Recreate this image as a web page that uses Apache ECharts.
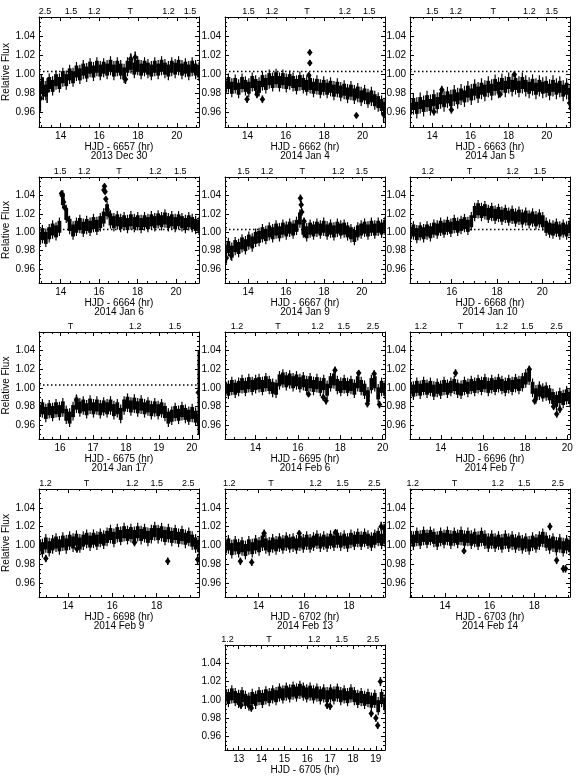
<!DOCTYPE html>
<html>
<head>
<meta charset="utf-8">
<script src="https://cdn.jsdelivr.net/npm/echarts@6/dist/echarts.min.js"></script>
<style>
  html, body { margin: 0; padding: 0; background: #fff; }
  #main { width: 576px; height: 776px; }
</style>
</head>
<body>
<div id="main"></div>
<script>
var fluxDec30 = [0.978,0.987,0.983,0.991,0.988,0.994,0.991,0.997,0.994,1.000,0.997,1.003,1.000,1.005,1.002,1.007,1.003,1.008,1.004,1.007,1.005,1.009,1.004,1.008,1.005,1.001,1.008,1.011,1.006,1.009,1.005,1.008,1.006,1.004,1.008,1.005,1.009,1.006,1.004,1.008,1.006,1.009,1.005,1.007,1.004,1.008,1.005,1.003];
var fluxJan04 = [0.987,0.991,0.986,0.990,0.985,0.991,0.988,0.986,0.992,0.989,0.987,0.993,0.990,0.995,0.992,0.996,0.992,0.995,0.991,0.994,0.992,0.989,0.993,0.990,0.988,0.990,0.986,0.989,0.985,0.988,0.985,0.987,0.983,0.986,0.982,0.984,0.980,0.983,0.979,0.981,0.977,0.979,0.975,0.977,0.973,0.971,0.968,0.965];
var fluxJan05 = [0.964,0.969,0.965,0.970,0.967,0.972,0.968,0.973,0.970,0.975,0.972,0.976,0.973,0.978,0.975,0.979,0.977,0.982,0.979,0.984,0.981,0.985,0.983,0.987,0.984,0.989,0.986,0.990,0.987,0.991,0.988,0.990,0.987,0.991,0.988,0.986,0.989,0.985,0.988,0.986,0.987,0.984,0.988,0.985,0.987,0.983,0.985,0.979];
var fluxJan06 = [0.993,0.998,0.994,0.999,1.003,1.001,1.006,1.036,1.020,1.008,1.002,1.006,1.009,1.005,1.008,1.006,1.010,1.007,1.011,1.016,1.024,1.014,1.011,1.013,1.010,1.012,1.009,1.013,1.010,1.012,1.009,1.012,1.010,1.013,1.011,1.014,1.012,1.015,1.011,1.013,1.010,1.013,1.011,1.009,1.012,1.010,1.008,1.007];
var fluxJan09 = [0.980,0.984,0.979,0.985,0.983,0.988,0.986,0.991,0.989,0.994,0.995,0.999,0.997,1.001,0.999,1.003,1.000,1.004,1.002,1.005,1.003,1.007,1.015,1.004,1.000,1.004,1.002,1.005,1.003,1.006,1.002,1.004,1.001,1.005,1.003,1.004,1.001,0.999,0.996,1.001,1.003,1.005,1.002,1.006,1.003,1.006,1.004,1.007];
var fluxJan10 = [0.999,1.002,0.998,1.001,0.999,1.002,1.000,1.004,1.003,1.006,1.004,1.007,1.005,1.009,1.006,1.008,1.010,1.007,1.012,1.022,1.025,1.022,1.024,1.020,1.022,1.019,1.021,1.018,1.020,1.017,1.019,1.016,1.018,1.015,1.017,1.014,1.016,1.013,1.015,1.012,1.006,1.004,1.003,1.005,1.002,1.004,1.002,1.006];
var fluxJan17 = [0.975,0.978,0.973,0.977,0.974,0.978,0.975,0.979,0.971,0.968,0.975,0.983,0.979,0.981,0.977,0.982,0.978,0.981,0.977,0.980,0.978,0.981,0.976,0.978,0.972,0.981,0.984,0.980,0.983,0.979,0.982,0.978,0.980,0.976,0.979,0.976,0.978,0.974,0.968,0.970,0.974,0.971,0.975,0.972,0.970,0.973,0.969,0.966];
var fluxFeb06 = [1.000,0.998,1.002,0.999,1.001,1.004,1.001,1.005,1.002,1.004,1.005,1.002,1.006,1.003,1.000,0.999,1.008,1.010,1.007,1.009,1.006,1.008,1.005,1.007,1.003,1.006,1.002,1.005,1.001,1.004,0.998,1.006,1.009,1.003,1.001,1.004,1.001,1.003,0.999,1.006,1.002,0.998,0.991,1.004,1.006,0.994,1.001,0.998];
var fluxFeb07 = [1.000,0.997,1.001,0.998,1.002,0.999,1.001,0.997,1.000,0.998,1.002,0.999,1.001,1.003,0.999,0.998,1.002,1.000,1.003,1.001,1.004,1.002,1.005,1.001,1.004,1.002,1.005,1.003,1.001,1.004,1.002,1.005,1.003,1.006,1.010,1.013,1.000,0.993,0.997,0.995,0.996,0.993,0.989,0.986,0.990,0.988,0.992,0.989];
var fluxFeb09 = [1.000,0.997,1.002,0.998,1.001,1.003,1.000,1.004,1.001,1.005,1.003,1.006,1.002,1.005,1.007,1.004,1.007,1.005,1.008,1.006,1.009,1.012,1.008,1.013,1.010,1.014,1.011,1.013,1.010,1.014,1.011,1.013,1.009,1.012,1.015,1.012,1.014,1.010,1.013,1.009,1.012,1.008,1.011,1.007,1.009,1.005,1.002,0.999];
var fluxFeb13 = [0.998,1.001,0.996,1.000,0.997,0.999,0.995,1.000,0.997,1.001,0.999,1.004,1.001,0.999,1.002,1.000,1.003,1.001,1.004,1.002,1.003,1.001,1.004,1.002,1.005,1.002,1.004,1.006,1.003,1.005,1.003,1.006,1.004,1.007,1.004,1.006,1.003,1.007,1.005,1.008,1.005,1.008,1.006,1.004,1.007,1.009,1.006,1.008];
var fluxFeb14 = [1.008,1.005,1.009,1.006,1.010,1.007,1.010,1.008,1.005,1.009,1.007,1.010,1.006,1.009,1.007,1.010,1.006,1.009,1.006,1.008,1.005,1.009,1.006,1.003,1.006,1.003,1.005,1.002,1.006,1.003,1.005,1.002,1.004,1.001,1.003,1.000,1.004,1.002,1.005,1.008,1.004,1.001,1.003,0.999,1.002,0.998,1.001,0.999];
var fluxFeb15 = [1.005,1.002,1.006,1.003,1.001,1.004,1.000,0.998,1.002,1.000,1.004,1.001,1.005,1.003,1.006,1.004,1.008,1.006,1.009,1.007,1.010,1.008,1.011,1.009,1.007,1.009,1.006,1.008,1.005,1.007,1.004,1.007,1.005,1.008,1.004,1.006,1.003,1.007,1.004,1.001,1.003,1.000,1.002,0.998,1.001,0.993,1.002,0.996];

// isolated points and flares: [hour, flux, error]
var extraDec30 = [[12.95,0.975,0.014],[13.1,0.985,0.012],[13.3,0.983,0.013],[13.0,0.990,0.010],[17.35,0.995,0.005],[17.62,1.016,0.006],[17.85,1.018,0.006]];
var extraJan04 = [[13.98,0.974,0.004],[14.5,0.979,0.004],[14.78,0.974,0.004],[17.25,1.023,0.003],[17.25,1.012,0.003],[17.2,0.999,0.003],[19.68,0.957,0.003],[21.1,0.958,0.008]];
var extraJan05 = [[14.08,0.961,0.004],[14.5,0.984,0.004],[15.0,0.963,0.004],[17.55,0.979,0.003],[18.3,1.000,0.003],[21.2,0.970,0.007]];
var extraJan06 = [[14.04,1.042,0.003],[14.08,1.040,0.003],[14.15,1.033,0.003],[14.2,1.027,0.003],[14.35,1.015,0.003],[16.25,1.046,0.003],[16.28,1.050,0.003],[16.31,1.044,0.003],[16.35,1.036,0.003],[16.42,1.025,0.003],[16.5,1.020,0.004]];
var extraJan09 = [[16.76,1.037,0.004],[16.8,1.030,0.004],[16.83,1.022,0.004],[16.95,1.012,0.004],[17.0,0.998,0.003],[12.85,0.972,0.006],[13.1,0.975,0.005]];
var extraJan10 = [];
var extraJan17 = [[20.2,0.995,0.045],[16.5,0.987,0.005]];
var extraFeb06 = [[17.2,0.990,0.004],[17.33,0.986,0.004],[17.75,1.019,0.004],[18.87,1.016,0.003],[19.28,0.983,0.004],[19.85,0.982,0.004],[19.6,1.015,0.004],[16.5,0.993,0.003]];
var extraFeb07 = [[14.7,1.016,0.004],[18.2,1.020,0.004],[18.45,0.986,0.004],[19.5,0.972,0.004],[19.35,0.980,0.004],[19.65,0.977,0.004]];
var extraFeb09 = [[13.0,0.986,0.004],[14.4,0.996,0.004],[18.5,0.983,0.004],[19.85,0.985,0.005],[17.0,1.003,0.004]];
var extraFeb13 = [[13.2,0.983,0.004],[13.7,0.982,0.004],[14.25,1.013,0.004],[17.4,1.014,0.003],[19.42,1.020,0.005],[19.55,1.018,0.005],[15.8,1.013,0.003]];
var extraFeb14 = [[14.85,0.994,0.003],[18.7,1.020,0.004],[19.0,0.984,0.004],[19.3,0.975,0.004],[19.4,0.975,0.004]];
var extraFeb15 = [[13.1,0.994,0.004],[13.55,0.991,0.004],[16.87,0.994,0.004],[17.0,0.993,0.004],[18.8,0.985,0.004],[19.08,0.972,0.004],[19.2,1.020,0.005],[19.0,0.980,0.004]];

var fluxes = [fluxDec30, fluxJan04, fluxJan05, fluxJan06, fluxJan09, fluxJan10, fluxJan17, fluxFeb06, fluxFeb07, fluxFeb09, fluxFeb13, fluxFeb14, fluxFeb15];
var extras = [extraDec30, extraJan04, extraJan05, extraJan06, extraJan09, extraJan10, extraJan17, extraFeb06, extraFeb07, extraFeb09, extraFeb13, extraFeb14, extraFeb15];
var hourSpans = [[12.88,21.15],[12.83,21.17],[12.83,21.22],[12.87,21.2],[12.78,21.22],[14.16,21.22],[15.36,20.22],[12.56,20.11],[12.54,20.13],[12.69,19.91],[12.52,19.59],[12.43,19.6],[12.4,19.4]];
var hjdOffsets = ['6657','6662','6663','6664','6667','6668','6675','6695','6696','6698','6702','6703','6705'];
var nightDates = ['2013 Dec 30','2014 Jan 4','2014 Jan 5','2014 Jan 6','2014 Jan 9','2014 Jan 10','2014 Jan 17','2014 Feb 6','2014 Feb 7','2014 Feb 9','2014 Feb 13','2014 Feb 14',''];
var hourStep = [2,2,2,2,2,2,1,2,2,2,2,2,1];
var fluxErr = [0.010,0.010,0.011,0.010,0.010,0.010,0.010,0.010,0.010,0.010,0.010,0.010,0.010];
var withDotted = [true,true,true,true,true,true,true,false,false,false,false,false,false];
// airmass along the top axis
var airmassHour = [
  [13.19,14.54,15.74,17.59,19.57,20.69],
  [14.05,15.28,17.11,19.07,20.35],
  [14.0,15.23,17.2,19.09,20.26],
  [13.97,15.23,17.04,18.92,20.23],
  [13.76,15.0,16.85,18.76,20.0],
  [14.94,16.78,18.68,19.9],
  [16.32,18.28,19.49],
  [13.13,15.06,16.93,18.16,19.54],
  [13.05,14.94,16.89,18.1,19.49],
  [12.98,14.83,16.9,18.0,19.43],
  [12.71,14.55,16.52,17.71,19.11],
  [12.55,14.42,16.36,17.55,19.05],
  [12.51,14.33,16.31,17.51,18.87]
];
var airmassText = [
  ['2.5','1.5','1.2','T','1.2','1.5'],
  ['1.5','1.2','T','1.2','1.5'],
  ['1.5','1.2','T','1.2','1.5'],
  ['1.5','1.2','T','1.2','1.5'],
  ['1.5','1.2','T','1.2','1.5'],
  ['1.2','T','1.2','1.5'],
  ['T','1.2','1.5'],
  ['1.2','T','1.2','1.5','2.5'],
  ['1.2','T','1.2','1.5','2.5'],
  ['1.2','T','1.2','1.5','2.5'],
  ['1.2','T','1.2','1.5','2.5'],
  ['1.2','T','1.2','1.5','2.5'],
  ['1.2','T','1.2','1.5','2.5']
];
var fluxTicks = [0.96, 0.98, 1.00, 1.02, 1.04];
var fluxMin = 0.945, fluxMax = 1.06, quietLevel = 1.003;

var FONT = '"Liberation Sans", Arial, sans-serif';
var colLeft = [39, 225, 410];
var rowTop = [17, 177, 332, 489, 645];
var rowH = [110, 106, 107, 108, 108];

function ticks(min, max, step) {
  var out = [];
  for (var v = Math.ceil(min / step - 1e-9) * step; v <= max + 1e-9; v += step) out.push(+v.toFixed(4));
  return out;
}

// dense points: thin error bar plus a solid core block
function bandPoint(params, api) {
  var t = api.value(0), f = api.value(1), e = api.value(2);
  var hi = api.coord([t, f + e]), lo = api.coord([t, f - e]), c = api.coord([t, f]);
  return {
    type: 'group',
    children: [
      {type: 'rect', shape: {x: c[0] - 0.6, y: hi[1], width: 1.2, height: lo[1] - hi[1]}, style: {fill: '#000'}},
      {type: 'rect', shape: {x: c[0] - 1.9, y: c[1] - 6, width: 3.8, height: 12}, style: {fill: '#000'}}
    ]
  };
}

// isolated points: error bar with a diamond
function errPoint(params, api) {
  var t = api.value(0), f = api.value(1), e = api.value(2);
  var hi = api.coord([t, f + e]), lo = api.coord([t, f - e]), c = api.coord([t, f]);
  return {
    type: 'group',
    children: [
      {type: 'rect', shape: {x: c[0] - 0.75, y: hi[1], width: 1.5, height: lo[1] - hi[1]}, style: {fill: '#000'}},
      {type: 'polygon', shape: {points: [[c[0], c[1] - 3.5], [c[0] + 2.8, c[1]], [c[0], c[1] + 3.5], [c[0] - 2.8, c[1]]]}, style: {fill: '#000'}}
    ]
  };
}

var grids = [], xAxes = [], yAxes = [], series = [];
var tickLine = {color: '#000', width: 1};

fluxes.forEach(function (flux, p) {
  var col = p < 12 ? p % 3 : 1, row = Math.floor(p / 3);
  grids.push({left: colLeft[col], top: rowTop[row], width: 160, height: rowH[row], show: false});
  var t0 = hourSpans[p][0], t1 = hourSpans[p][1];
  var major = ticks(t0, t1, hourStep[p]);
  var minor = ticks(t0, t1, hourStep[p] / 4);
  var base = {type: 'value', gridIndex: p, min: t0, max: t1, splitLine: {show: false}};
  var name = 'HJD - ' + hjdOffsets[p] + ' (hr)' + (nightDates[p] ? '\n' + nightDates[p] : '');
  xAxes.push(Object.assign({}, base, {
    position: 'bottom', name: name, nameLocation: 'middle', nameGap: 14,
    nameTextStyle: {fontFamily: FONT, fontSize: 10, color: '#000', lineHeight: 9},
    axisLine: {show: true, lineStyle: {color: '#000', width: 1}},
    axisTick: {show: true, inside: true, length: 4, customValues: major, lineStyle: tickLine},
    axisLabel: {customValues: major, fontFamily: FONT, fontSize: 10, color: '#000', margin: 4}
  }));
  xAxes.push(Object.assign({}, base, {
    position: 'bottom', axisLine: {show: false},
    axisTick: {show: true, inside: true, length: 2, customValues: minor, lineStyle: tickLine},
    axisLabel: {show: false}
  }));
  var amPos = airmassHour[p], amTxt = airmassText[p];
  xAxes.push(Object.assign({}, base, {
    position: 'top',
    axisLine: {show: true, lineStyle: {color: '#000', width: 1}},
    axisTick: {show: true, inside: true, length: 4, customValues: major, lineStyle: tickLine},
    axisLabel: {
      customValues: amPos, fontFamily: FONT, fontSize: 9, color: '#000', margin: 1,
      formatter: function (v) {
        for (var k = 0; k < amPos.length; k++) if (Math.abs(amPos[k] - v) < 1e-6) return amTxt[k];
        return '';
      }
    }
  }));
  xAxes.push(Object.assign({}, base, {
    position: 'top', axisLine: {show: false},
    axisTick: {show: true, inside: true, length: 2, customValues: minor, lineStyle: tickLine},
    axisLabel: {show: false}
  }));

  var ybase = {type: 'value', gridIndex: p, min: fluxMin, max: fluxMax, splitLine: {show: false}};
  var yMinor = ticks(fluxMin, fluxMax, 0.005);
  yAxes.push(Object.assign({}, ybase, {
    position: 'left',
    name: col === 0 && p < 12 ? 'Relative Flux' : '', nameLocation: 'middle', nameGap: 22,
    nameTextStyle: {fontFamily: FONT, fontSize: 10, color: '#000'},
    axisLine: {show: true, lineStyle: {color: '#000', width: 1}},
    axisTick: {show: true, inside: true, length: 4, customValues: fluxTicks, lineStyle: tickLine},
    axisLabel: {customValues: fluxTicks, fontFamily: FONT, fontSize: 10, color: '#000', margin: 4,
      formatter: function (v) { return v.toFixed(2); }}
  }));
  yAxes.push(Object.assign({}, ybase, {
    position: 'left', axisLine: {show: false},
    axisTick: {show: true, inside: true, length: 2, customValues: yMinor, lineStyle: tickLine},
    axisLabel: {show: false}
  }));
  yAxes.push(Object.assign({}, ybase, {
    position: 'right',
    axisLine: {show: true, lineStyle: {color: '#000', width: 1}},
    axisTick: {show: true, inside: true, length: 4, customValues: fluxTicks, lineStyle: tickLine},
    axisLabel: {show: false}
  }));
  yAxes.push(Object.assign({}, ybase, {
    position: 'right', axisLine: {show: false},
    axisTick: {show: true, inside: true, length: 2, customValues: yMinor, lineStyle: tickLine},
    axisLabel: {show: false}
  }));

  var xi = 4 * p, yi = 4 * p;
  if (withDotted[p]) {
    series.push({
      type: 'line', xAxisIndex: xi, yAxisIndex: yi, z: 1, silent: true, symbol: 'none',
      data: [[t0, quietLevel], [t1, quietLevel]],
      lineStyle: {color: '#000', width: 1.5, type: [1.5, 2.5]}
    });
  }
  var n = flux.length;
  series.push({
    type: 'custom', xAxisIndex: xi, yAxisIndex: yi, z: 2, clip: true, silent: true,
    renderItem: bandPoint,
    data: flux.map(function (f, i) { return [t0 + i * (t1 - t0) / (n - 1), f, fluxErr[p]]; })
  });
  series.push({
    type: 'custom', xAxisIndex: xi, yAxisIndex: yi, z: 3, clip: true, silent: true,
    renderItem: errPoint,
    data: extras[p]
  });
});

var chart = echarts.init(document.getElementById('main'), null, {renderer: 'canvas'});
chart.setOption({
  animation: false,
  backgroundColor: '#fff',
  grid: grids,
  xAxis: xAxes,
  yAxis: yAxes,
  series: series
});
</script>
</body>
</html>
